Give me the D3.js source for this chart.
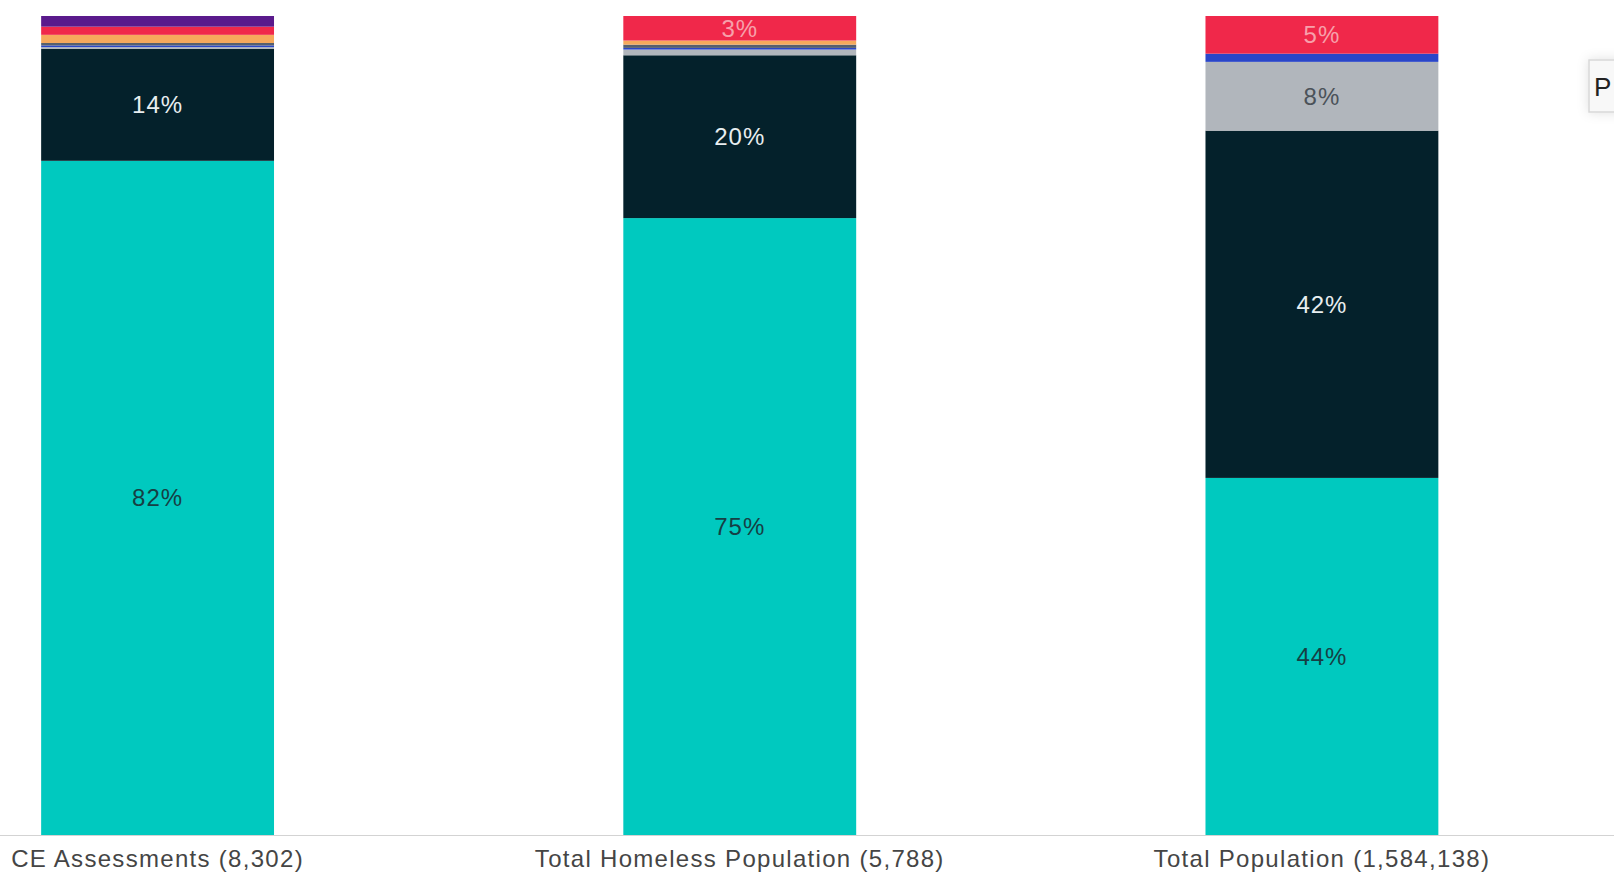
<!DOCTYPE html>
<html>
<head>
<meta charset="utf-8">
<script src="https://cdn.jsdelivr.net/npm/d3@7"></script>
<style>
  html, body { margin: 0; padding: 0; background: #ffffff; overflow: hidden; }
  svg { display: block; font-family: "Liberation Sans", Arial, Helvetica, sans-serif; }
</style>
</head>
<body>
<svg id="chart" width="1614" height="879"></svg>
<script>
// ---- Data (percent of each group) ----
const categories = ["CE Assessments (8,302)", "Total Homeless Population (5,788)", "Total Population (1,584,138)"];
const seriesKeys = ["teal", "navy", "grey", "blue", "slate", "orange", "red", "purple"];
const tealValues   = [82.4, 75.4, 43.6];
const navyValues   = [13.7, 19.9, 42.4];
const greyValues   = [0.2, 0.7, 8.4];
const blueValues   = [0.2, 0.2, 1.0];
const slateValues  = [0.3, 0.4, 0.0];
const orangeValues = [1.0, 0.5, 0.0];
const redValues    = [1.0, 3.0, 4.6];
const purpleValues = [1.3, 0.0, 0.0];
const seriesColors = ["#00c9bf", "#04212b", "#b1b6bc", "#2a46c8", "#56606e", "#f6a95c", "#f0284a", "#5a1a8c"];
const labelColors  = ["#163f44", "#e8eef0", "#4b5259", "#ffffff", "#ffffff", "#333333", "#f7a0ab", "#ffffff"];
const labelThreshold = 2.5;

const valueArrays = [tealValues, navyValues, greyValues, blueValues, slateValues, orangeValues, redValues, purpleValues];
const table = categories.map((c, i) => {
  const row = { category: c };
  seriesKeys.forEach((k, j) => row[k] = valueArrays[j][i]);
  return row;
});

const svg = d3.select("#chart");
const W = 1614;

const x = d3.scaleBand()
  .domain(categories)
  .range([-133.5, 1613])
  .paddingInner(0.6)
  .paddingOuter(0.3);

const y = d3.scaleLinear().domain([0, 1]).range([835, 16]);

const stack = d3.stack().keys(seriesKeys).offset(d3.stackOffsetExpand);
const stacked = stack(table);

const color = d3.scaleOrdinal().domain(seriesKeys).range(seriesColors);
const lblColor = d3.scaleOrdinal().domain(seriesKeys).range(labelColors);

const layers = svg.append("g").selectAll("g")
  .data(stacked)
  .join("g")
  .attr("fill", d => color(d.key));

layers.selectAll("rect")
  .data(d => d.map(p => ({ p, key: d.key })))
  .join("rect")
  .attr("x", d => x(d.p.data.category))
  .attr("width", x.bandwidth())
  .attr("y", d => y(d.p[1]))
  .attr("height", d => Math.max(0, y(d.p[0]) - y(d.p[1])));

// labels
const labelData = [];
stacked.forEach(layer => {
  layer.forEach(p => {
    const v = p.data[layer.key];
    if (v >= labelThreshold) labelData.push({ key: layer.key, v, p });
  });
});
svg.append("g").selectAll("text")
  .data(labelData)
  .join("text")
  .attr("x", d => x(d.p.data.category) + x.bandwidth() / 2)
  .attr("y", d => (y(d.p[0]) + y(d.p[1])) / 2)
  .attr("text-anchor", "middle")
  .attr("dominant-baseline", "central")
  .attr("font-size", 24)
  .attr("letter-spacing", 1)
  .attr("fill", d => lblColor(d.key))
  .text(d => Math.round(d.v) + "%");

// x axis
const axis = svg.append("g")
  .attr("transform", "translate(0,835)")
  .call(d3.axisBottom(x).tickSize(0).tickPadding(0));
axis.select(".domain").attr("d", `M0,0.5H${W}`).attr("stroke", "#d3d3d3").attr("stroke-width", 1.2);
axis.selectAll(".tick text")
  .attr("y", 32)
  .attr("dy", 0)
  .attr("font-size", 24)
  .attr("letter-spacing", 1.3)
  .attr("font-family", "Liberation Sans, Arial, sans-serif")
  .attr("fill", "#454545");

// legend/button box at right edge
const defs = svg.append("defs");
const f = defs.append("filter").attr("id", "shadow").attr("x", "-50%").attr("y", "-50%").attr("width", "200%").attr("height", "200%");
f.append("feDropShadow").attr("dx", 0).attr("dy", 0).attr("stdDeviation", 6).attr("flood-color", "#000").attr("flood-opacity", 0.12);
svg.append("rect")
  .attr("x", 1589).attr("y", 60).attr("width", 44).attr("height", 52)
  .attr("fill", "#f8f8f8").attr("stroke", "#d8d8d8").attr("stroke-width", 1.5)
  .attr("filter", "url(#shadow)");
svg.append("text")
  .attr("x", 1594).attr("y", 96)
  .attr("font-size", 26)
  .attr("fill", "#222")
  .text("P");
</script>
</body>
</html>
